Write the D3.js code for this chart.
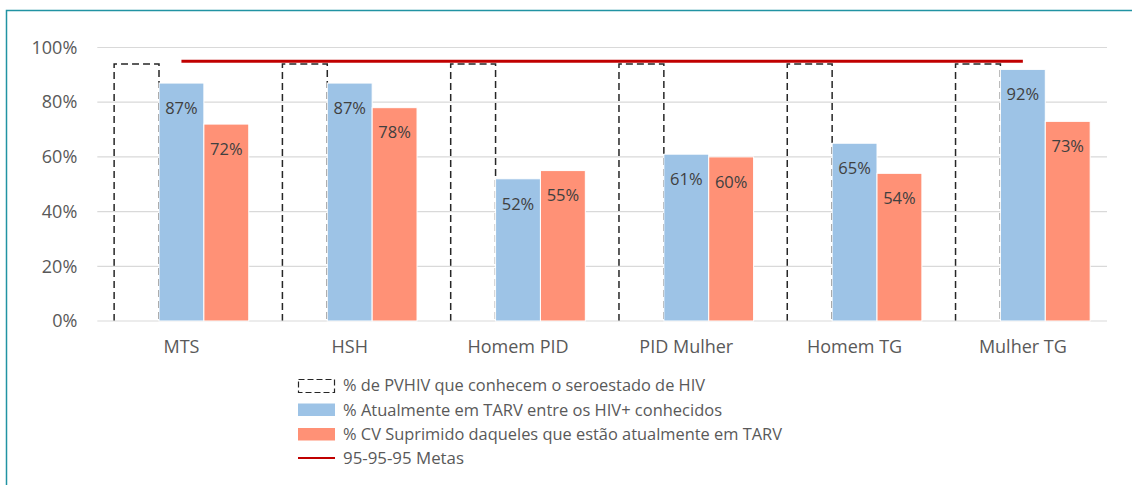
<!DOCTYPE html>
<html>
<head>
<meta charset="utf-8">
<script src="https://cdn.jsdelivr.net/npm/d3@7"></script>
<style>
  body { margin: 0; background: #fff; }
  text { font-family: "Open Sans", sans-serif; }
</style>
</head>
<body>
<div id="chart"></div>
<script>
// categories and series
var categories = ["MTS", "HSH", "Homem PID", "PID Mulher", "Homem TG", "Mulher TG"];
var conhecem = [94, 94, 94, 94, 94, 94];      // dashed, no label shown
var emTarv = [87, 87, 52, 61, 65, 92];
var cvSuprimido = [72, 78, 55, 60, 54, 73];
var metas = [95, 95, 95, 95, 95, 95];
var yTicks = [0, 20, 40, 60, 80, 100];
var legendLabels = [
    "% de PVHIV que conhecem o seroestado de HIV",
    "% Atualmente em TARV entre os HIV+ conhecidos",
    "% CV Suprimido daqueles que estão atualmente em TARV",
    "95-95-95 Metas"
];

var width = 1132, height = 485;
var plotLeft = 97.3, plotRight = 1107, plotTop = 47.5, plotBottom = 321;

var svg = d3.select('#chart').append('svg')
    .attr('width', width).attr('height', height);

// outer teal frame (cropped by picture edge)
svg.append('path')
    .attr('d', 'M6.5,' + height + ' V10.5 H' + width)
    .attr('fill', 'none').attr('stroke', '#2193a3').attr('stroke-width', 1.5);

var x = d3.scaleBand().domain(categories).range([plotLeft, plotRight]).paddingInner(0.2).paddingOuter(0.1);
var xs = d3.scaleBand().domain([0, 1, 2]).range([0, x.bandwidth()]);
var y = d3.scaleLinear().domain([0, 100]).range([plotBottom, plotTop]);

var rows = categories.map(function(c, i){
    return { cat: c, a: conhecem[i], b: emTarv[i], c2: cvSuprimido[i] };
});

// dashed bars (open at the base)
svg.append('g').selectAll('path')
    .data(rows).enter().append('path')
    .attr('d', function(d){
        var x0 = x(d.cat) + xs(0), x1 = x0 + xs.bandwidth();
        return 'M' + x0 + ',' + y(0) + 'V' + y(d.a) + 'H' + x1 + 'V' + y(0);
    })
    .attr('fill', 'none').attr('stroke', '#262626')
    .attr('stroke-width', 1.5).attr('stroke-dasharray', '7,4');

// gridlines
svg.append('g').selectAll('line')
    .data(yTicks).enter().append('line')
    .attr('x1', plotLeft).attr('x2', plotRight)
    .attr('y1', function(d){ return y(d); })
    .attr('y2', function(d){ return y(d); })
    .attr('stroke', '#d9d9d9').attr('stroke-width', 1.2);

// y axis labels
var yAxis = svg.append('g').attr('transform', 'translate(' + (plotLeft - 20) + ',0)')
    .call(d3.axisLeft(y).tickValues(yTicks).tickSize(0).tickFormat(function(d){ return d + '%'; }));
yAxis.select('.domain').remove();
yAxis.selectAll('text').attr('font-size', 18).attr('fill', '#595959')
    .attr('font-family', '"Open Sans", sans-serif').attr('x', 0);

// x axis labels
var xAxis = svg.append('g').attr('transform', 'translate(0,' + (plotBottom + 16) + ')')
    .call(d3.axisBottom(x).tickSize(0));
xAxis.select('.domain').remove();
xAxis.selectAll('text').attr('font-size', 18).attr('fill', '#595959')
    .attr('font-family', '"Open Sans", sans-serif');

// blue bars
svg.append('g').selectAll('rect')
    .data(rows).enter().append('rect')
    .attr('x', function(d){ return x(d.cat) + xs(1); })
    .attr('y', function(d){ return y(d.b); })
    .attr('width', xs.bandwidth())
    .attr('height', function(d){ return y(0) - y(d.b); })
    .attr('fill', '#9dc3e6').attr('stroke', '#fff').attr('stroke-width', 1);

// orange bars
svg.append('g').selectAll('rect')
    .data(rows).enter().append('rect')
    .attr('x', function(d){ return x(d.cat) + xs(2); })
    .attr('y', function(d){ return y(d.c2); })
    .attr('width', xs.bandwidth())
    .attr('height', function(d){ return y(0) - y(d.c2); })
    .attr('fill', '#ff9176').attr('stroke', '#fff').attr('stroke-width', 1);

// bar labels
function labels(key, idx){
    svg.append('g').selectAll('text')
        .data(rows).enter().append('text')
        .attr('x', function(d){ return x(d.cat) + xs(idx) + xs.bandwidth() / 2; })
        .attr('y', function(d){ return y(d[key]) + 25; })
        .attr('dy', '0.35em')
        .attr('text-anchor', 'middle')
        .attr('font-size', 16.5).attr('fill', '#404040')
        .text(function(d){ return d[key] + '%'; });
}
labels('b', 1);
labels('c2', 2);

// target line
var line = d3.line()
    .x(function(d, i){ return x(categories[i]) + x.bandwidth() / 2; })
    .y(function(d){ return y(d); });
svg.append('path').datum(metas)
    .attr('d', line).attr('fill', 'none')
    .attr('stroke', '#c00000').attr('stroke-width', 3);

// legend
var lg = svg.append('g').attr('transform', 'translate(298,0)');
var rowY = [385.5, 410, 434, 458];
var textLen = [362, 379, 439, 121];
lg.append('rect').attr('x', 0.5).attr('y', 379.5).attr('width', 36).attr('height', 13)
    .attr('fill', 'none').attr('stroke', '#262626').attr('stroke-width', 1.2).attr('stroke-dasharray', '6,3');
lg.append('rect').attr('x', 0).attr('y', 403.5).attr('width', 37).attr('height', 12.5).attr('fill', '#9dc3e6');
lg.append('rect').attr('x', 0).attr('y', 428).attr('width', 37).attr('height', 12.5).attr('fill', '#ff9176');
lg.append('line').attr('x1', 0).attr('x2', 37).attr('y1', 458).attr('y2', 458)
    .attr('stroke', '#c00000').attr('stroke-width', 2);
lg.selectAll('text.leg')
    .data(legendLabels).enter().append('text')
    .attr('class', 'leg')
    .attr('x', 45)
    .attr('y', function(d, i){ return rowY[i]; })
    .attr('dy', '0.35em')
    .attr('font-size', 16.5).attr('fill', '#595959')
    .attr('textLength', function(d, i){ return textLen[i]; })
    .attr('lengthAdjust', 'spacingAndGlyphs')
    .text(function(d){ return d; });
</script>
</body>
</html>
